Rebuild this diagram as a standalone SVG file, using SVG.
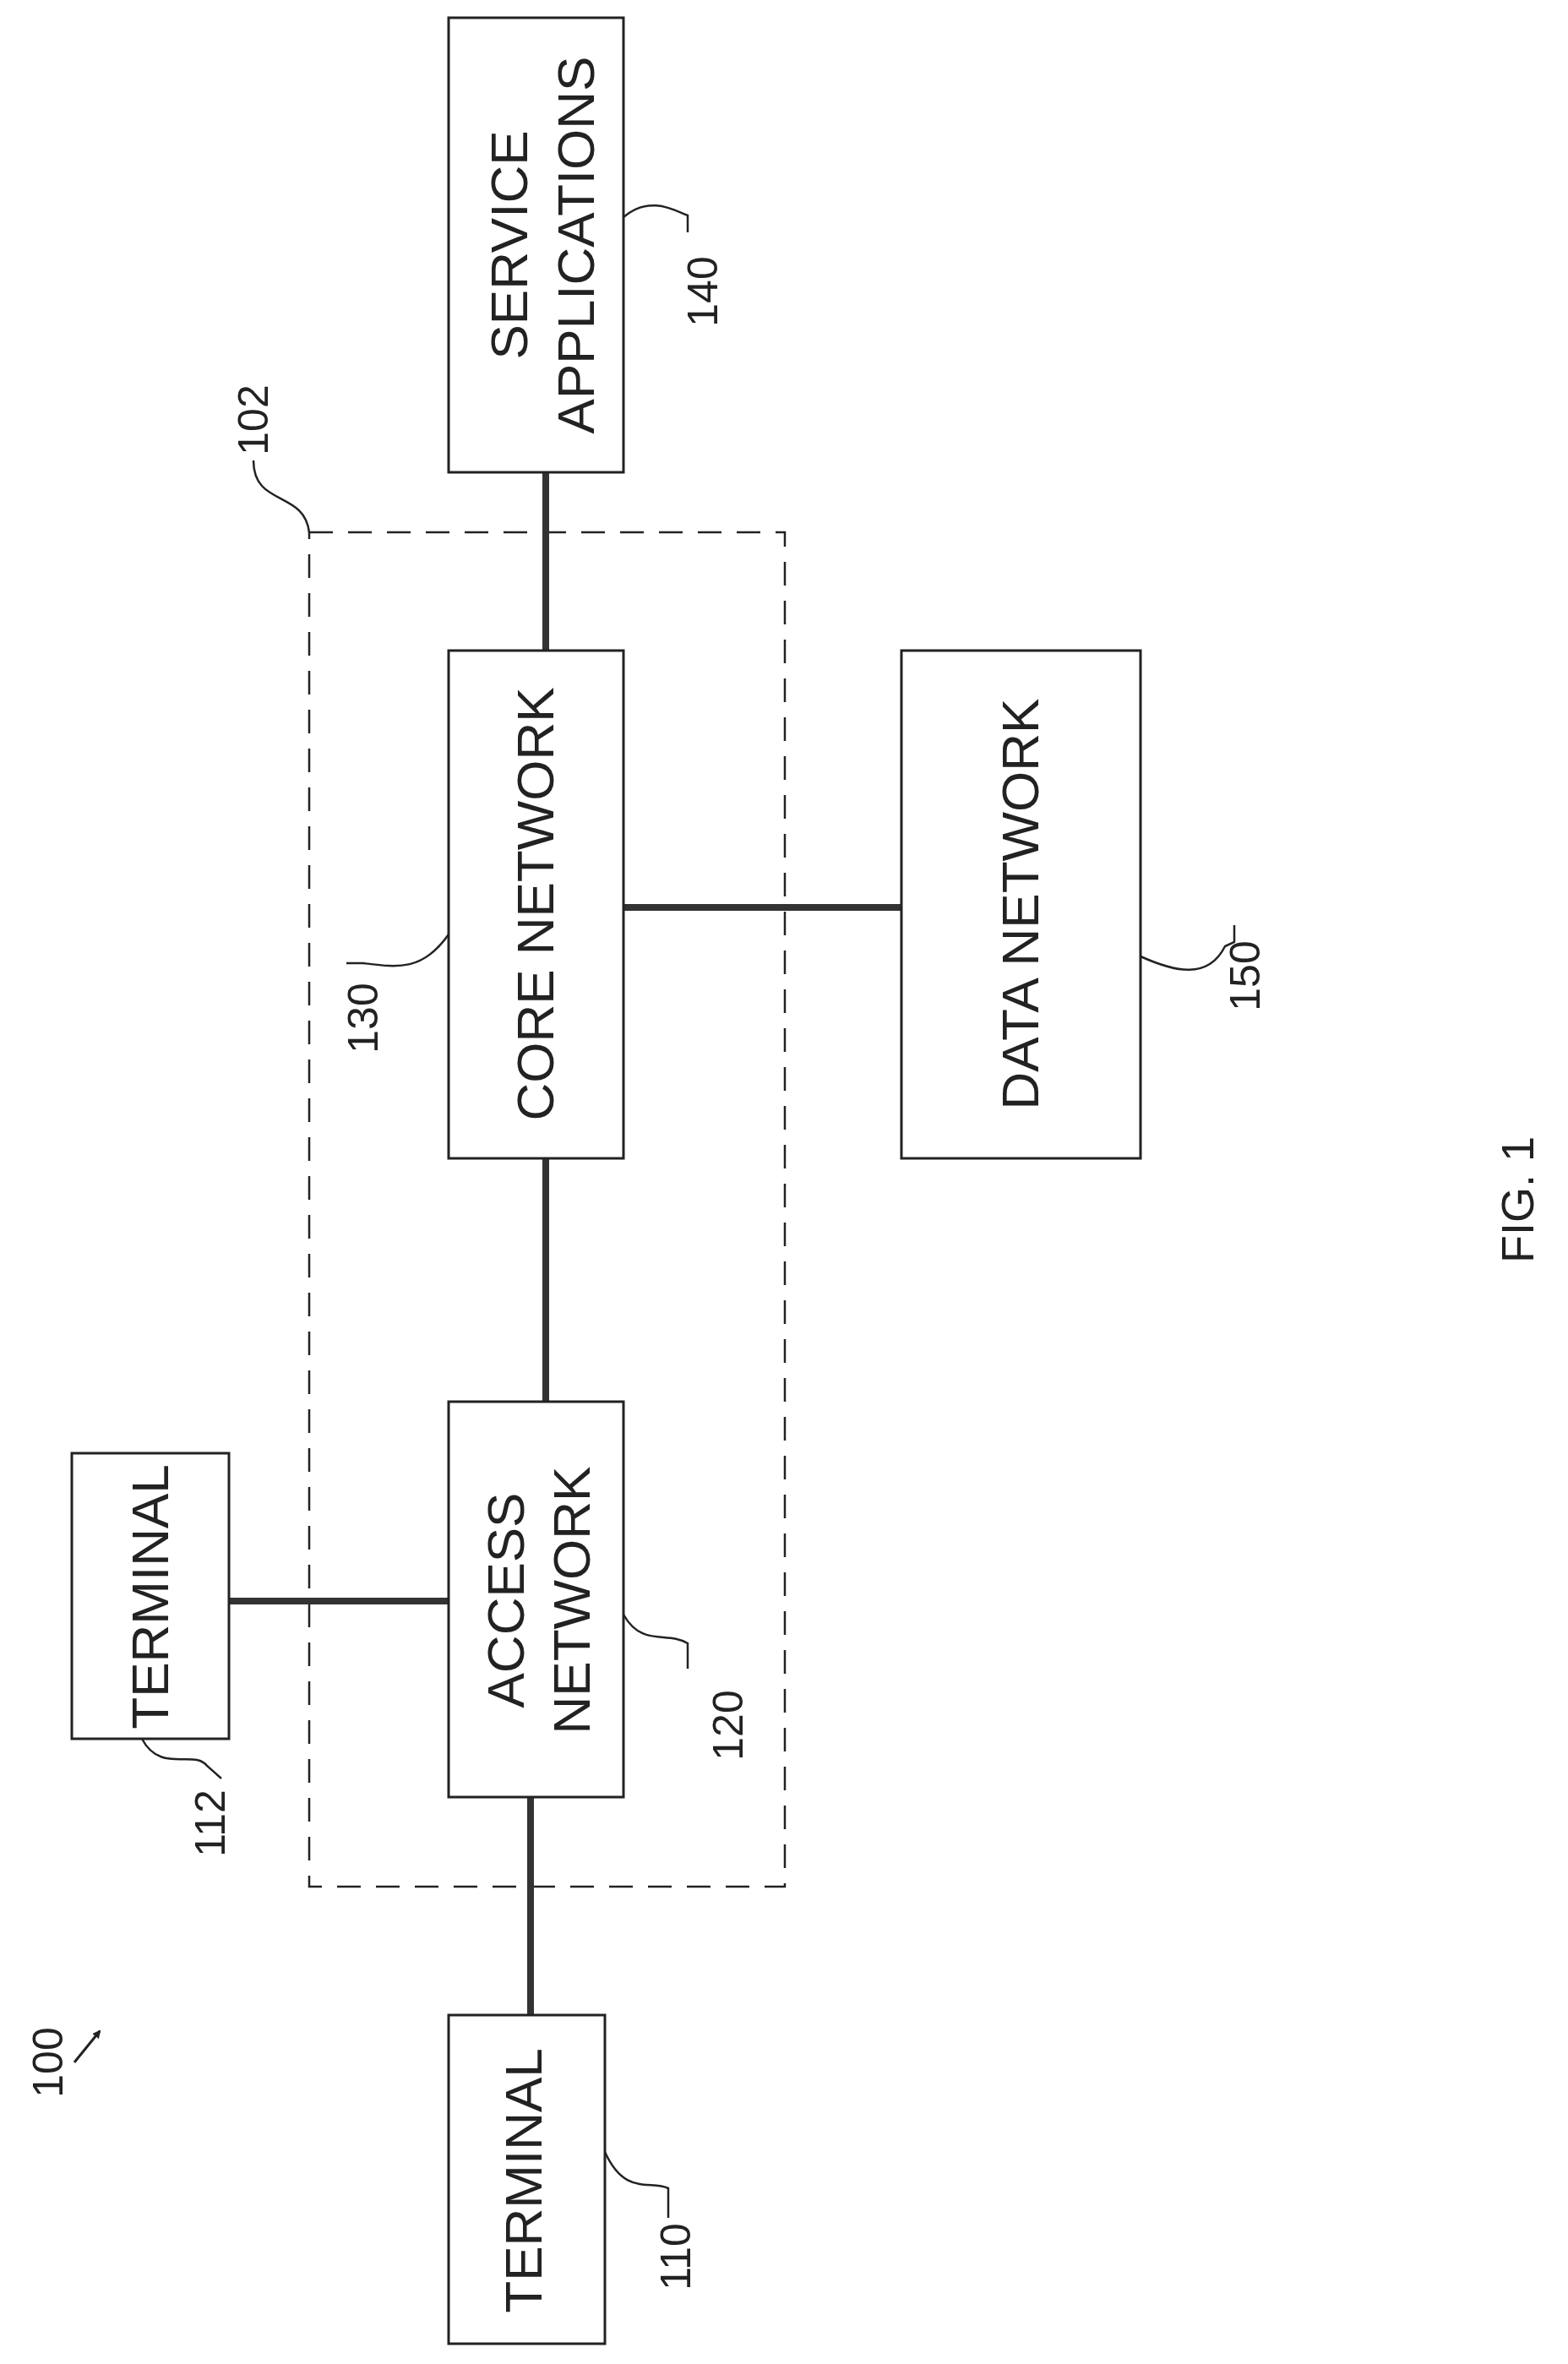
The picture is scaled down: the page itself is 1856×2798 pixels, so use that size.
<svg xmlns="http://www.w3.org/2000/svg" width="1856" height="2798" viewBox="0 0 1856 2798">
<style>
.box{fill:#fff;stroke:#222;stroke-width:3}
.t{font-family:"Liberation Sans",Arial,sans-serif;font-size:62px;fill:#222;text-anchor:middle;dominant-baseline:central}
.n{font-family:"Liberation Sans",Arial,sans-serif;font-size:50px;fill:#222;text-anchor:middle;dominant-baseline:central}
.c{stroke:#333;stroke-width:8;fill:none;stroke-linecap:round}
.l{stroke:#222;stroke-width:2.5;fill:none}
</style>
<defs><marker id="ah" markerWidth="10" markerHeight="10" refX="8" refY="5" orient="auto" markerUnits="userSpaceOnUse" viewBox="0 0 10 10"><path d="M0,0 L10,5 L0,10 z" fill="#222"/></marker></defs>
<rect x="366" y="630" width="563" height="1603" fill="none" stroke="#222" stroke-width="2.5" stroke-dasharray="28,18"/>
<path class="l" d="M300,545 C300,600 360,580 366,630"/>
<text class="n" transform="translate(300,497) rotate(-90)">102</text>
<g id="connectors">
<line class="c" x1="646" y1="559" x2="646" y2="770"/>
<line class="c" x1="646" y1="1371" x2="646" y2="1659"/>
<line class="c" x1="738" y1="1074" x2="1067" y2="1074"/>
<line class="c" x1="271" y1="1895" x2="531" y2="1895"/>
<line class="c" x1="628" y1="2127" x2="628" y2="2385"/>
</g>
<g id="n140"><rect class="box" x="531" y="21" width="207" height="538"/>
<text class="t" transform="translate(602,290) rotate(-90)">SERVICE</text>
<text class="t" transform="translate(681,290) rotate(-90)">APPLICATIONS</text>
<path class="l" d="M738,257 C770,230 800,250 814,255 L814,275"/>
<text class="n" transform="translate(832,345) rotate(-90)">140</text></g>
<g id="n130"><rect class="box" x="531" y="770" width="207" height="601"/>
<text class="t" transform="translate(633,1070) rotate(-90)">CORE NETWORK</text>
<path class="l" d="M531,1106 C500,1150 470,1145 430,1140 L410,1140"/>
<text class="n" transform="translate(430,1205) rotate(-90)">130</text></g>
<g id="n150"><rect class="box" x="1067" y="770" width="283" height="601"/>
<text class="t" transform="translate(1207,1070) rotate(-90)">DATA NETWORK</text>
<path class="l" d="M1350,1132 C1390,1150 1430,1160 1450,1120 L1461,1115 L1461,1095"/>
<text class="n" transform="translate(1474,1155) rotate(-90)">150</text></g>
<g id="n120"><rect class="box" x="531" y="1659" width="207" height="468"/>
<text class="t" transform="translate(598,1894) rotate(-90)">ACCESS</text>
<text class="t" transform="translate(676,1894) rotate(-90)">NETWORK</text>
<path class="l" d="M738,1911 C760,1950 790,1930 814,1945 L814,1975"/>
<text class="n" transform="translate(862,2042) rotate(-90)">120</text></g>
<g id="n112"><rect class="box" x="85" y="1720" width="186" height="338"/>
<text class="t" transform="translate(177,1890) rotate(-90)">TERMINAL</text>
<path class="l" d="M168,2058 C190,2100 230,2070 245,2090 L262,2105"/>
<text class="n" transform="translate(249,2158) rotate(-90)">112</text></g>
<g id="n110"><rect class="box" x="531" y="2385" width="185" height="389"/>
<text class="t" transform="translate(619,2581) rotate(-90)">TERMINAL</text>
<path class="l" d="M716,2547 C740,2600 770,2580 791,2590 L791,2625"/>
<text class="n" transform="translate(800,2671) rotate(-90)">110</text></g>
<g id="n100"><text class="n" transform="translate(57,2441) rotate(-90)">100</text>
<line x1="88" y1="2441" x2="118" y2="2404" stroke="#222" stroke-width="3" marker-end="url(#ah)"/></g>
<text class="t" style="font-size:54px" transform="translate(1796,1420) rotate(-90)">FIG. 1</text>
</svg>
